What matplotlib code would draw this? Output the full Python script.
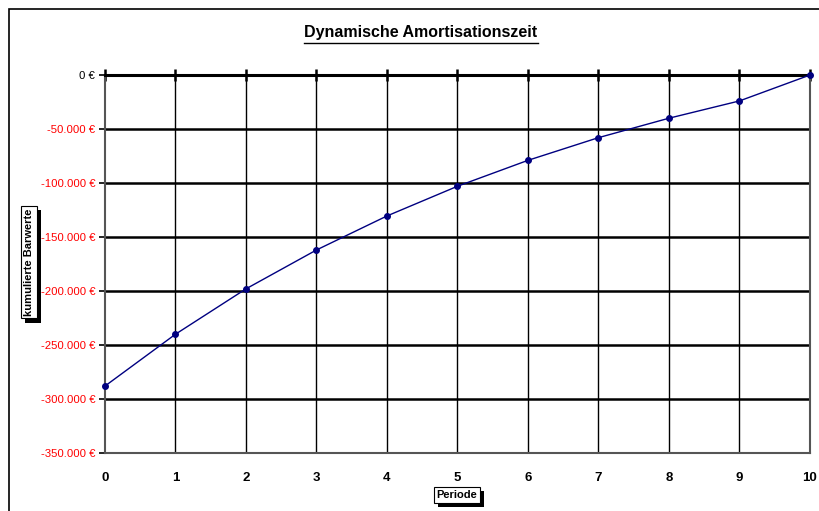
import matplotlib.pyplot as plt
from matplotlib.patches import Rectangle
from matplotlib.ticker import FuncFormatter
import matplotlib.patheffects as pe

perioden = [0, 1, 2, 3, 4, 5, 6, 7, 8, 9, 10]
barwerte = [-288000, -240000, -198000, -162000, -130500, -103000,
            -79000, -58000, -40000, -24000, 0]
y_ticks = [0, -50000, -100000, -150000, -200000, -250000, -300000, -350000]


def euro(v, pos=None):
    s = f"{abs(int(v)):,}".replace(",", ".")
    return ("-" if v < 0 else "") + s + " €"


plt.rcParams['font.family'] = ['Liberation Sans', 'DejaVu Sans']

fig = plt.figure(figsize=(8.2, 5.11), dpi=100)
fig.patches.append(Rectangle((9 / 820, -0.1), 1.0, 1 - 9 / 511 + 0.1,
                             transform=fig.transFigure, fill=False,
                             edgecolor='black', linewidth=1.2))

ax = fig.add_axes([105 / 820, 1 - 453 / 511, 705 / 820, 378 / 511])
ax.set_xlim(0, 10)
ax.set_ylim(-350000, 0)

for y in y_ticks[1:-1]:
    ax.axhline(y, color='black', linewidth=1.8, zorder=1)
for x in perioden[1:-1]:
    ax.axvline(x, color='black', linewidth=1.0, zorder=1)

ax.plot(perioden, barwerte, color='#000080', linewidth=1.0, marker='o',
        markersize=4, zorder=3, clip_on=False)

for side in ['left', 'right', 'bottom']:
    ax.spines[side].set_color('#555555')
    ax.spines[side].set_linewidth(1.5)
ax.spines['top'].set_color('black')
ax.spines['top'].set_linewidth(2.2)

ax.set_xticks(perioden)
ax.set_yticks(y_ticks)
ax.yaxis.set_major_formatter(FuncFormatter(euro))
ax.tick_params(axis='x', bottom=False, top=True, labelbottom=True,
               labeltop=False, direction='inout', length=8, width=1.8,
               pad=10, labelsize=9.5)
for lbl in ax.get_xticklabels():
    lbl.set_fontweight('bold')
ax.tick_params(axis='y', direction='out', length=4, width=1.2,
               labelsize=8.2, pad=3)
for lbl in ax.get_yticklabels():
    lbl.set_color('black' if lbl.get_text().startswith('0') else '#ff0000')

fig.text(421 / 820, 1 - 33 / 511, "Dynamische Amortisationszeit",
         ha='center', va='center', fontsize=11.5, fontweight='bold')
fig.lines.append(plt.Line2D([304 / 820, 538 / 820], [1 - 43 / 511] * 2,
                            transform=fig.transFigure, color='black',
                            linewidth=1.0))


def box_text(x, y, s, rotation=0):
    t = fig.text(x, y, s, ha='center', va='center', fontsize=8,
                 fontweight='bold', rotation=rotation,
                 bbox=dict(boxstyle='square,pad=0.25', fc='white', ec='black',
                           lw=0.8))
    t.get_bbox_patch().set_path_effects([
        pe.SimplePatchShadow(offset=(3, -3), shadow_rgbFace='black', alpha=1),
        pe.Normal()])


box_text(29 / 820, 1 - 262 / 511, "kumulierte Barwerte", rotation=90)
box_text(457 / 820, 1 - 495 / 511, "Periode")

fig.savefig('out.png', dpi=100)
